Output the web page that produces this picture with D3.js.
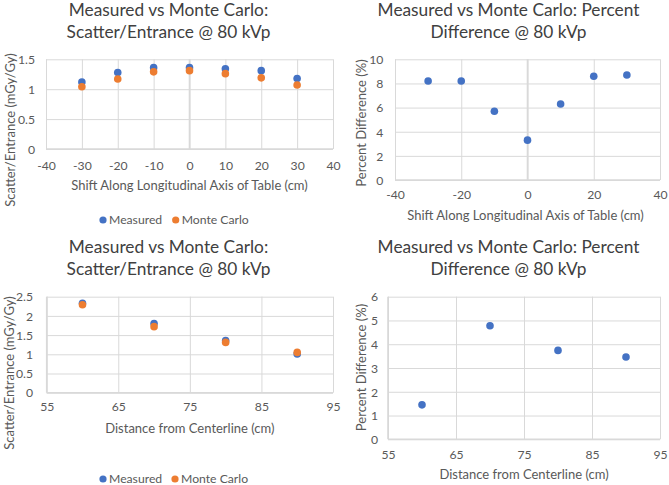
<!DOCTYPE html>
<html>
<head>
<meta charset="utf-8">
<script src="https://cdn.jsdelivr.net/npm/d3@7"></script>
<style>
  html, body { margin: 0; padding: 0; background: #fff; }
  svg { display: block; font-family: Lato, "Open Sans", sans-serif; }
</style>
</head>
<body>
<svg id="chart" width="669" height="485"></svg>
<script>
// ---- Data ----
const shiftCm = [-30, -20, -10, 0, 10, 20, 30];
const shiftMeasured = [1.12, 1.28, 1.36, 1.36, 1.34, 1.31, 1.18];
const shiftMonteCarlo = [1.04, 1.17, 1.29, 1.31, 1.26, 1.19, 1.07];
const shiftPercentDiff = [8.2, 8.2, 5.7, 3.3, 6.3, 8.6, 8.7];

const distanceCm = [60, 70, 80, 90];
const distMeasured = [2.33, 1.80, 1.36, 1.01];
const distMonteCarlo = [2.29, 1.72, 1.31, 1.05];
const distPercentDiff = [1.45, 4.78, 3.74, 3.46];

const seriesNames = ["Measured", "Monte Carlo"];
const titleRatio = ["Measured vs Monte Carlo:", "Scatter/Entrance @ 80 kVp"];
const titlePercent = ["Measured vs Monte Carlo: Percent", "Difference @ 80 kVp"];
const xTitleShift = "Shift Along Longitudinal Axis of Table (cm)";
const xTitleDist = "Distance from Centerline (cm)";
const yTitleRatio = "Scatter/Entrance (mGy/Gy)";
const yTitlePercent = "Percent Difference (%)";

const ticksShiftX1 = [-40, -30, -20, -10, 0, 10, 20, 30, 40];
const ticksShiftX2 = [-40, -20, 0, 20, 40];
const ticksRatioY1 = [0, 0.5, 1, 1.5];
const ticksPercentY1 = [0, 2, 4, 6, 8, 10];
const ticksDistX = [55, 65, 75, 85, 95];
const ticksRatioY2 = [0, 0.5, 1, 1.5, 2, 2.5];
const ticksPercentY2 = [0, 1, 2, 3, 4, 5, 6];

// ---- Styling ----
const BLUE = "#4472C4", ORANGE = "#ED7D31", GRID = "#d9d9d9";
const TITLE_COLOR = "#404040", TEXT_COLOR = "#595959";
const fmt = d => String(d);

const svg = d3.select("#chart");

function panel(cfg) {
  const g = svg.append("g");
  const x = d3.scaleLinear().domain(cfg.xDomain).range([cfg.left, cfg.right]);
  const y = d3.scaleLinear().domain(cfg.yDomain).range([cfg.bottom, cfg.top]);

  // title
  cfg.title.forEach((t, i) => {
    g.append("text").attr("x", cfg.titleX).attr("y", cfg.titleY[i]).attr("dy", "0.35em")
      .attr("text-anchor", "middle").attr("font-size", 17.3).attr("fill", TITLE_COLOR).text(t);
  });

  // gridlines via axes
  const yGrid = d3.axisLeft(y).tickValues(cfg.yTicks).tickSize(-(cfg.right - cfg.left)).tickFormat("");
  g.append("g").attr("transform", `translate(${cfg.left},0)`).call(yGrid)
    .call(s => s.select(".domain").remove())
    .call(s => s.selectAll("line").attr("stroke", GRID).attr("stroke-width", 1));
  const xGrid = d3.axisBottom(x).tickValues(cfg.xTicks).tickSize(-(cfg.bottom - cfg.top)).tickFormat("");
  g.append("g").attr("transform", `translate(0,${cfg.bottom})`).call(xGrid)
    .call(s => s.select(".domain").remove())
    .call(s => s.selectAll("line").attr("stroke", GRID).attr("stroke-width", 1));

  // axis lines
  g.append("line").attr("x1", cfg.left).attr("x2", cfg.right)
    .attr("y1", y(cfg.yDomain[0])).attr("y2", y(cfg.yDomain[0]))
    .attr("stroke", GRID).attr("stroke-width", 1.6);
  g.append("line").attr("x1", x(cfg.xAxisAt)).attr("x2", x(cfg.xAxisAt))
    .attr("y1", cfg.top).attr("y2", cfg.bottom)
    .attr("stroke", GRID).attr("stroke-width", 1.6);

  // tick labels
  const xAxis = d3.axisBottom(x).tickValues(cfg.xTicks).tickFormat(fmt).tickSize(0).tickPadding(0);
  g.append("g").attr("transform", `translate(0,${cfg.xTickY})`).call(xAxis)
    .call(s => s.select(".domain").remove())
    .call(s => s.selectAll("text").attr("y", 0).attr("dy", "0.35em")
      .attr("font-size", 12.2).attr("font-family", "Lato, sans-serif").attr("fill", TEXT_COLOR));
  const yAxis = d3.axisLeft(y).tickValues(cfg.yTicks).tickFormat(fmt).tickSize(0).tickPadding(0);
  g.append("g").attr("transform", `translate(${cfg.yTickX},0)`).call(yAxis)
    .call(s => s.select(".domain").remove())
    .call(s => s.selectAll("text").attr("x", 0).attr("dy", "0.35em")
      .attr("font-size", 12.2).attr("font-family", "Lato, sans-serif").attr("fill", TEXT_COLOR));

  // axis titles
  g.append("text").attr("x", (cfg.left + cfg.right) / 2 + (cfg.xTitleShift || 0)).attr("y", cfg.xTitleY)
    .attr("dy", "0.35em").attr("text-anchor", "middle").attr("font-size", 13)
    .attr("fill", TEXT_COLOR).text(cfg.xTitle);
  g.append("text").attr("transform", `translate(${cfg.yTitleX},${cfg.yTitleY}) rotate(-90)`)
    .attr("dy", "0.35em").attr("text-anchor", "middle").attr("font-size", 13)
    .attr("fill", TEXT_COLOR).text(cfg.yTitle);

  // points
  cfg.series.forEach(s => {
    g.append("g").selectAll("circle").data(s.values).join("circle")
      .attr("cx", (d, i) => x(cfg.xs[i])).attr("cy", d => y(d))
      .attr("r", 3.8).attr("fill", s.color);
  });

  // legend
  if (cfg.legendY !== undefined) {
    const leg = g.append("g");
    cfg.series.forEach((s, i) => {
      const lx = cfg.legendX[i];
      leg.append("circle").attr("cx", lx).attr("cy", cfg.legendY).attr("r", 3.6).attr("fill", s.color);
      leg.append("text").attr("x", lx + 6).attr("y", cfg.legendY).attr("dy", "0.35em")
        .attr("font-size", 12.2).attr("fill", TEXT_COLOR).text(s.name);
    });
  }
}

panel({
  left: 46, right: 333, top: 59.3, bottom: 149,
  xDomain: [-40, 40], yDomain: [0, 1.5], xAxisAt: 0,
  xTicks: ticksShiftX1, yTicks: ticksRatioY1,
  title: titleRatio, titleX: 168.5, titleY: [10, 31.7],
  xTickY: 165.7, yTickX: 35, xTitle: xTitleShift, xTitleY: 185,
  yTitle: yTitleRatio, yTitleX: 10, yTitleY: 130,
  xs: shiftCm,
  series: [{ name: seriesNames[0], values: shiftMeasured, color: BLUE },
           { name: seriesNames[1], values: shiftMonteCarlo, color: ORANGE }],
  legendY: 220, legendX: [103, 175.7]
});

panel({
  left: 395, right: 660, top: 59.3, bottom: 180,
  xDomain: [-40, 40], yDomain: [0, 10], xAxisAt: 0,
  xTicks: ticksShiftX2, yTicks: ticksPercentY1,
  title: titlePercent, titleX: 508.5, titleY: [10, 31.7],
  xTickY: 195, yTickX: 383.3, xTitle: xTitleShift, xTitleY: 215, xTitleShift: -2,
  yTitle: yTitlePercent, yTitleX: 361.7, yTitleY: 123,
  xs: shiftCm,
  series: [{ name: seriesNames[0], values: shiftPercentDiff, color: BLUE }]
});

panel({
  left: 46.7, right: 333, top: 296.7, bottom: 392.7,
  xDomain: [55, 95], yDomain: [0, 2.5], xAxisAt: 55,
  xTicks: ticksDistX, yTicks: ticksRatioY2,
  title: titleRatio, titleX: 168.5, titleY: [246.7, 269.3],
  xTickY: 406.7, yTickX: 33, xTitle: xTitleDist, xTitleY: 428.3,
  yTitle: yTitleRatio, yTitleX: 9, yTitleY: 373,
  xs: distanceCm,
  series: [{ name: seriesNames[0], values: distMeasured, color: BLUE },
           { name: seriesNames[1], values: distMonteCarlo, color: ORANGE }],
  legendY: 479, legendX: [103, 175]
});

panel({
  left: 388, right: 660, top: 296.7, bottom: 439.3,
  xDomain: [55, 95], yDomain: [0, 6], xAxisAt: 55,
  xTicks: ticksDistX, yTicks: ticksPercentY2,
  title: titlePercent, titleX: 508.5, titleY: [246.7, 269.3],
  xTickY: 455, yTickX: 378, xTitle: xTitleDist, xTitleY: 474.3,
  yTitle: yTitlePercent, yTitleX: 361.7, yTitleY: 367.5,
  xs: distanceCm,
  series: [{ name: seriesNames[0], values: distPercentDiff, color: BLUE }]
});
</script>
</body>
</html>
